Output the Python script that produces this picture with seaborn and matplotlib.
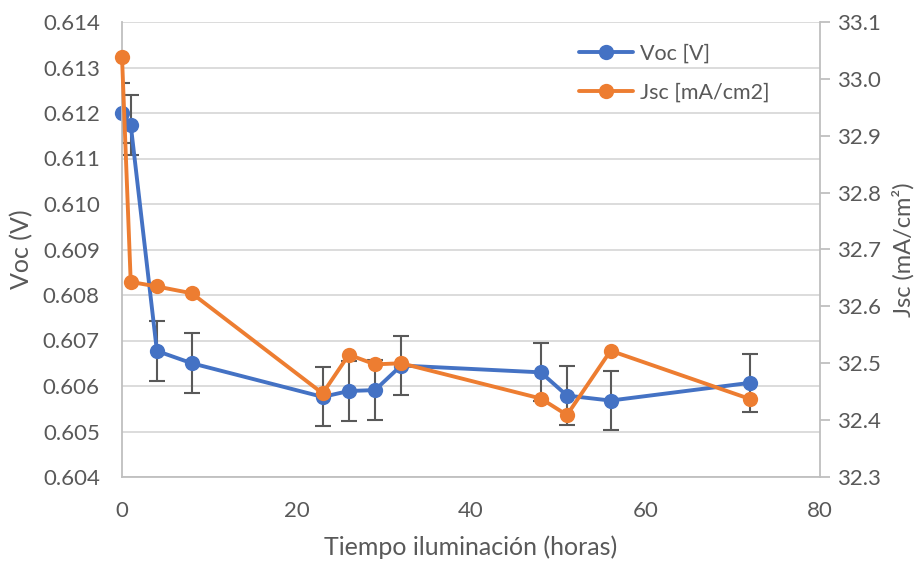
import matplotlib
matplotlib.use("Agg")
import matplotlib.pyplot as plt
import seaborn as sns
import pandas as pd

hours = [0, 1, 4, 8, 23, 26, 29, 32, 48, 51, 56, 72]
voc = [0.6120, 0.61174, 0.60677, 0.6065, 0.60576, 0.60589, 0.60591,
       0.60645, 0.6063, 0.60579, 0.60568, 0.60607]
voc_err = [0.00066, 0.00066, 0.00066, 0.00066, 0.00065, 0.00066, 0.00066,
           0.00065, 0.00064, 0.00064, 0.00065, 0.00064]
jsc = [33.039, 32.643, 32.635, 32.623, 32.447, 32.515, 32.498, 32.500,
       32.438, 32.409, 32.522, 32.437]

x_ticks = [0, 20, 40, 60, 80]
voc_ticks = [0.604, 0.605, 0.606, 0.607, 0.608, 0.609, 0.610, 0.611, 0.612, 0.613, 0.614]
jsc_ticks = [32.3, 32.4, 32.5, 32.6, 32.7, 32.8, 32.9, 33.0, 33.1]

df = pd.DataFrame({"hours": hours, "voc": voc, "voc_err": voc_err, "jsc": jsc})

sns.set_theme(style="white")
plt.rcParams["font.family"] = ["Lato", "DejaVu Sans"]

BLUE = "#4472C4"
ORANGE = "#ED7D31"
TXT = "#595959"
GRID = "#D9D9D9"
AXL = "#BFBFBF"
FS = 16
FSL = 18

fig = plt.figure(figsize=(9.23, 5.64), dpi=100)
ax = fig.add_axes([122 / 923, 1 - 477 / 564, (820 - 122) / 923, (477 - 22) / 564])

ax.errorbar(df["hours"], df["voc"], yerr=df["voc_err"], fmt="none",
            ecolor=TXT, elinewidth=1.5, capsize=6, capthick=1.5, zorder=1)
sns.lineplot(data=df, x="hours", y="voc", ax=ax, color=BLUE, lw=2.8,
             marker="o", markersize=11, markeredgewidth=0, label="Voc [V]",
             legend=False, zorder=2, clip_on=False)

ax2 = ax.twinx()
sns.lineplot(data=df, x="hours", y="jsc", ax=ax2, color=ORANGE, lw=2.8,
             marker="o", markersize=11, markeredgewidth=0, label="Jsc [mA/cm2]",
             legend=False, zorder=3, clip_on=False)

ax.set_xlim(0, 80)
ax.set_ylim(0.604, 0.614)
ax2.set_ylim(32.3, 33.1)
ax.set_xticks(x_ticks)
ax.set_yticks(voc_ticks)
ax.set_yticklabels([f"{v:.3f}" for v in voc_ticks])
ax2.set_yticks(jsc_ticks)
ax2.set_yticklabels([f"{v:.1f}" for v in jsc_ticks])

ax.grid(axis="y", color=GRID, lw=1.3)
ax.grid(axis="x", visible=False)
ax2.grid(False)
ax.set_axisbelow(True)

for a in (ax, ax2):
    for s in a.spines.values():
        s.set_visible(False)
ax.spines["left"].set_visible(True)
ax.spines["left"].set_color(AXL)
ax.spines["left"].set_linewidth(1.3)
ax.spines["bottom"].set_visible(True)
ax.spines["bottom"].set_color(AXL)
ax.spines["bottom"].set_linewidth(1.3)
ax2.spines["right"].set_visible(True)
ax2.spines["right"].set_color(AXL)
ax2.spines["right"].set_linewidth(1.3)

ax.tick_params(axis="y", length=0, labelsize=FS, colors=TXT, pad=16)
ax.tick_params(axis="x", length=0, labelsize=FS, colors=TXT, pad=17)
ax2.tick_params(axis="y", length=7, width=1.3, color=AXL, labelsize=FS,
                labelcolor=TXT, pad=5, direction="out")

ax.set_xlabel("Tiempo iluminación (horas)", fontsize=FSL, color=TXT, labelpad=11)
ax.set_ylabel("Voc (V)", fontsize=FSL, color=TXT, labelpad=7)
ax2.set_ylabel("Jsc (mA/cm²)", fontsize=17, color=TXT, labelpad=8)

h1, l1 = ax.get_legend_handles_labels()
h2, l2 = ax2.get_legend_handles_labels()
leg = ax2.legend(h1 + h2, l1 + l2, loc="upper left",
                 bbox_to_anchor=(560 / 923, 1 - 24 / 564), bbox_transform=fig.transFigure,
                 frameon=False, fontsize=15.5, handlelength=2.5, handletextpad=0.3,
                 labelspacing=0.9)
for t in leg.get_texts():
    t.set_color(TXT)

fig.savefig("out.png", dpi=100, facecolor="white")
